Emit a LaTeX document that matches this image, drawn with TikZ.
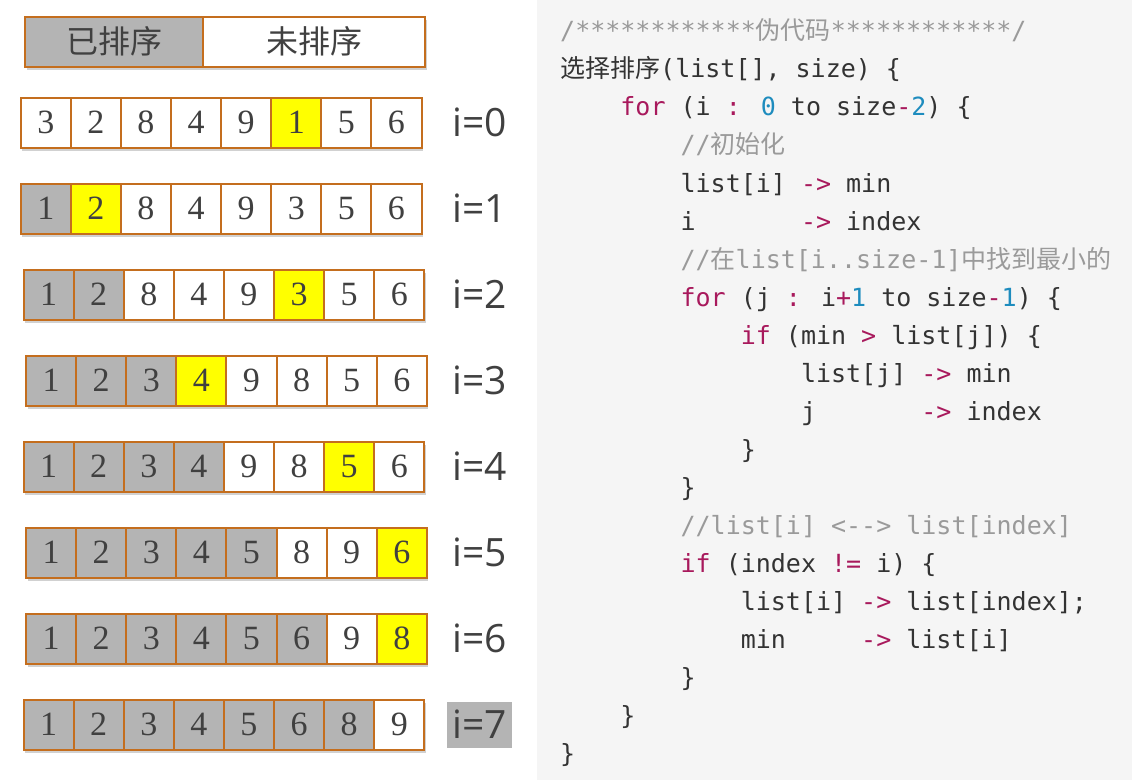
\documentclass[tikz,border=0pt]{standalone}
\usepackage{fontspec}
\usetikzlibrary{shadows}

\setmainfont{Liberation Serif}
\newfontfamily\cjkfont{Noto Sans CJK SC}
\newfontfamily\codefont{DejaVu Sans Mono}[Ligatures=TeXOff]
\newfontfamily\labelfont{Open Sans}

\definecolor{boxedge}{HTML}{C46E1E}
\definecolor{sortgray}{HTML}{B4B4B4}
\definecolor{markyellow}{HTML}{FFFF00}
\definecolor{inkgray}{HTML}{404040}
\definecolor{panelbg}{HTML}{F5F5F5}
\definecolor{codeink}{HTML}{333333}
\definecolor{codecmt}{HTML}{9A9A9A}
\definecolor{codekey}{HTML}{A8195C}
\definecolor{codenum}{HTML}{1E8CBE}

\newcommand\kw[1]{\textcolor{codekey}{#1}}
\newcommand\num[1]{\textcolor{codenum}{#1}}
\newcommand\zh[1]{{\cjkfont #1}}

\tikzset{
  boxshade/.style={drop shadow={shadow xshift=1.5pt, shadow yshift=-3pt,
    opacity=0.18, fill=black}},
  cell/.style={draw=boxedge, line width=2pt, minimum width=50.1pt,
    minimum height=50pt, inner sep=0pt, text=inkgray, boxshade,
    font=\fontsize{34}{40}\selectfont},
  legendbox/.style={cell, minimum height=50pt, font=\cjkfont\fontsize{32}{36}\selectfont},
  steplabel/.style={minimum width=65pt, minimum height=46pt, inner sep=0pt,
    text=inkgray, font=\labelfont\fontsize{39}{44}\selectfont},
  codeline/.style={anchor=base west, inner sep=0pt, text=codeink,
    font=\codefont\fontsize{25}{30}\selectfont},
  comment/.style={codeline, text=codecmt}
}

\begin{document}
\begin{tikzpicture}[x=1pt, y=-1pt]

\newcommand\CW{50.1}
\newcommand\LH{38.05}

\useasboundingbox (0,0) rectangle (1132,780);
\fill[panelbg] (537,0) rectangle (1132,780); %% code panel

%% legend
\node[legendbox, fill=sortgray, minimum width=178pt] (sorted) at (114,41.5) {已排序};
\node[legendbox, fill=white, minimum width=222pt] (unsorted) at (314,41.5) {未排序};

%% rows: index / left edge / sorted count / marked cell / values
\foreach \r/\x/\s/\h/\vals in {
  0/20.7/0/6/{3,2,8,4,9,1,5,6},
  1/20.7/1/2/{1,2,8,4,9,3,5,6},
  2/23.5/2/6/{1,2,8,4,9,3,5,6},
  3/26/3/4/{1,2,3,4,9,8,5,6},
  4/23.5/4/7/{1,2,3,4,9,8,5,6},
  5/26/5/8/{1,2,3,4,5,8,9,6},
  6/26/6/8/{1,2,3,4,5,6,9,8},
  7/23.5/7/0/{1,2,3,4,5,6,8,9}}{
  \foreach \d [count=\c] in \vals {
    \ifnum\c>\s \def\cellfill{white}\else \def\cellfill{sortgray}\fi
    \ifnum\c=\h \def\cellfill{markyellow}\fi
    \node[cell, fill=\cellfill] (r\r c\c)
      at ({\x+\CW/2+(\c-1)*\CW}, {122.5+86*\r}) {\d};
  }
  \ifnum\r=7 \def\labelfill{sortgray}\else \def\labelfill{none}\fi
  \node[steplabel, fill=\labelfill] (step\r) at (479.5, {122.5+86*\r}) {i=\r};
}

%% pseudo code
\node[comment] (code0) at (560, {39.8+0*\LH}) {/************\zh{伪代码}************/};
\node[codeline] (code1) at (560, {39.8+1*\LH}) {\zh{选择排序}(list[], size) \{};
\node[codeline] (code2) at (620.2, {39.8+2*\LH}) {\kw{for} (i \kw{:} \num{0} to size\kw{-}\num{2}) \{};
\node[comment] (code3) at (680.4, {39.8+3*\LH}) {//\zh{初始化}};
\node[codeline] (code4) at (680.4, {39.8+4*\LH}) {list[i] \kw{->} min};
\node[codeline] (code5) at (680.4, {39.8+5*\LH}) {i\ \ \ \ \ \ \ \kw{->} index};
\node[comment] (code6) at (680.4, {39.8+6*\LH}) {//\zh{在}list[i..size-1]\zh{中找到最小的}};
\node[codeline] (code7) at (680.4, {39.8+7*\LH}) {\kw{for} (j \kw{:} i\kw{+}\num{1} to size\kw{-}\num{1}) \{};
\node[codeline] (code8) at (740.6, {39.8+8*\LH}) {\kw{if} (min \kw{>} list[j]) \{};
\node[codeline] (code9) at (800.8, {39.8+9*\LH}) {list[j] \kw{->} min};
\node[codeline] (code10) at (800.8, {39.8+10*\LH}) {j\ \ \ \ \ \ \ \kw{->} index};
\node[codeline] (code11) at (740.6, {39.8+11*\LH}) {\}};
\node[codeline] (code12) at (680.4, {39.8+12*\LH}) {\}};
\node[comment] (code13) at (680.4, {39.8+13*\LH}) {//list[i] <--> list[index]};
\node[codeline] (code14) at (680.4, {39.8+14*\LH}) {\kw{if} (index \kw{!=} i) \{};
\node[codeline] (code15) at (740.6, {39.8+15*\LH}) {list[i] \kw{->} list[index];};
\node[codeline] (code16) at (740.6, {39.8+16*\LH}) {min\ \ \ \ \ \kw{->} list[i]};
\node[codeline] (code17) at (680.4, {39.8+17*\LH}) {\}};
\node[codeline] (code18) at (620.2, {39.8+18*\LH}) {\}};
\node[codeline] (code19) at (560, {39.8+19*\LH}) {\}};

\end{tikzpicture}
\end{document}
